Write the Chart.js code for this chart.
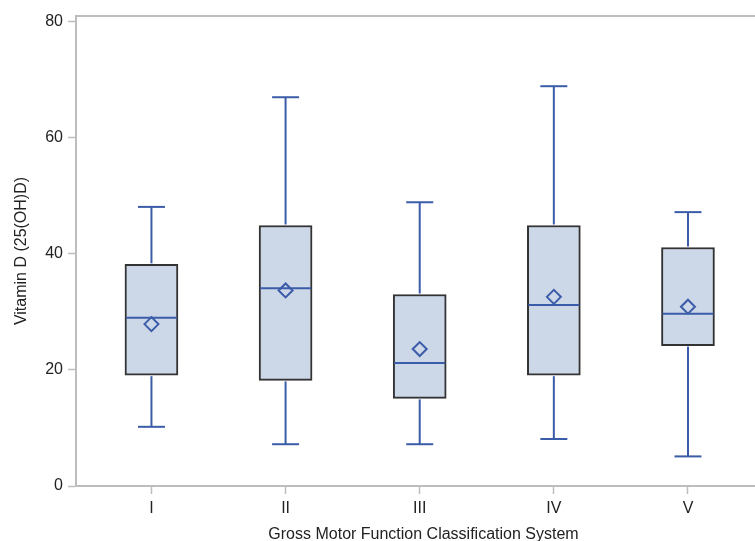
<!DOCTYPE html>
<html>
<head>
<meta charset="utf-8">
<script src="https://cdn.jsdelivr.net/npm/chart.js@4/dist/chart.umd.min.js"></script>
<style>
  html, body { margin: 0; padding: 0; background: #fff; overflow: hidden; }
  body { width: 755px; height: 541px; }
  #wrap { position: relative; width: 780px; height: 541px; }
</style>
</head>
<body>
<div id="wrap"><canvas id="boxChart"></canvas></div>
<script>
// values
const categories = ['I', 'II', 'III', 'IV', 'V'];
const upperWhisker = [48.1, 67.0, 48.9, 68.9, 47.2];
const q3 = [38.2, 44.9, 33.0, 44.9, 41.1];
const median = [29.0, 34.1, 21.2, 31.2, 29.7];
const mean = [27.9, 33.7, 23.6, 32.6, 30.9];
const q1 = [19.1, 18.2, 15.1, 19.1, 24.2];
const lowerWhisker = [10.2, 7.2, 7.2, 8.1, 5.1];
const yTicks = [0, 20, 40, 60, 80];

const blue = '#3b5ca8';
const boxFill = '#ccd7e8';
const frameGray = '#bdbdbd';
const textColor = '#222';
const font = { family: "'Liberation Sans', Arial, sans-serif", size: 16 };

// whiskers, caps and median lines, drawn right after the boxes
const boxPlotLines = {
    id: 'boxPlotLines',
    afterDatasetDraw(chart, args) {
        if (args.index !== 0) return;
        const ctx = chart.ctx;
        const x = chart.scales.x;
        const y = chart.scales.y;
        const capHalf = 13.5;
        const boxHalf = 26.5;

        function line(x1, y1, x2, y2) {
            ctx.beginPath();
            ctx.moveTo(x1, y1);
            ctx.lineTo(x2, y2);
            ctx.stroke();
        }

        ctx.save();
        ctx.strokeStyle = blue;
        ctx.lineWidth = 2;
        categories.forEach(function(c, i) {
            const px = x.getPixelForValue(i + 1);
            const top = y.getPixelForValue(upperWhisker[i]);
            const bottom = y.getPixelForValue(lowerWhisker[i]);
            line(px, y.getPixelForValue(q3[i]) - 1, px, top);
            line(px - capHalf, top, px + capHalf, top);
            line(px, y.getPixelForValue(q1[i]) + 1, px, bottom);
            line(px - capHalf, bottom, px + capHalf, bottom);
            const pm = y.getPixelForValue(median[i]);
            line(px - boxHalf + 1, pm, px + boxHalf - 1, pm);
        });
        ctx.restore();
    }
};

// top edge of the frame
const frameTop = {
    id: 'frameTop',
    beforeDatasetsDraw(chart) {
        const ctx = chart.ctx;
        const area = chart.chartArea;
        ctx.save();
        ctx.strokeStyle = frameGray;
        ctx.lineWidth = 2;
        ctx.beginPath();
        ctx.moveTo(area.left - 1, area.top);
        ctx.lineTo(area.right, area.top);
        ctx.stroke();
        ctx.restore();
    }
};

const ctx = document.getElementById('boxChart').getContext('2d');
const boxChart = new Chart(ctx, {
    type: 'bar',
    data: {
        datasets: [{
            type: 'bar',
            label: 'Box',
            data: categories.map(function(c, i) { return { x: i + 1, y: [q1[i], q3[i]] }; }),
            backgroundColor: boxFill,
            borderColor: '#333',
            borderWidth: 2,
            borderSkipped: false,
            barThickness: 53,
            order: 2
        }, {
            type: 'scatter',
            label: 'Mean',
            data: categories.map(function(c, i) { return { x: i + 1, y: mean[i] }; }),
            pointStyle: 'rectRot',
            pointRadius: 7,
            pointBorderWidth: 2,
            pointBorderColor: blue,
            pointBackgroundColor: 'rgba(0,0,0,0)',
            order: 1
        }]
    },
    options: {
        responsive: true,
        maintainAspectRatio: false,
        animation: false,
        layout: { padding: { top: 16, right: 4, left: 0, bottom: 0 } },
        plugins: {
            legend: { display: false },
            tooltip: { enabled: false }
        },
        scales: {
            x: {
                type: 'linear',
                min: 0.4375,
                max: 5.619,
                offset: false,
                afterBuildTicks: function(axis) {
                    axis.ticks = categories.map(function(c, i) { return { value: i + 1 }; });
                },
                afterFit: function(axis) { axis.height = 55; },
                ticks: {
                    color: textColor,
                    font: font,
                    padding: 5,
                    maxRotation: 0,
                    autoSkip: false,
                    callback: function(value) { return categories[value - 1]; }
                },
                grid: { drawOnChartArea: false, offset: false, tickLength: 8, color: frameGray, tickWidth: 1.5 },
                border: { color: frameGray, width: 2 },
                title: {
                    display: true,
                    text: 'Gross Motor Function Classification System',
                    color: textColor,
                    font: font,
                    padding: { top: 0, bottom: -3 }
                }
            },
            y: {
                type: 'linear',
                min: 0,
                max: 81,
                afterBuildTicks: function(axis) {
                    axis.ticks = yTicks.map(function(v) { return { value: v }; });
                },
                afterFit: function(axis) { axis.width = 76; },
                ticks: {
                    color: textColor,
                    font: font,
                    padding: 5
                },
                grid: { drawOnChartArea: false, tickLength: 8, color: frameGray, tickWidth: 1.5 },
                border: { color: frameGray, width: 2 },
                title: {
                    display: true,
                    text: 'Vitamin D (25(OH)D)',
                    color: textColor,
                    font: font,
                    padding: { top: 12, bottom: 0 }
                }
            }
        }
    },
    plugins: [boxPlotLines, frameTop]
});
</script>
</body>
</html>
